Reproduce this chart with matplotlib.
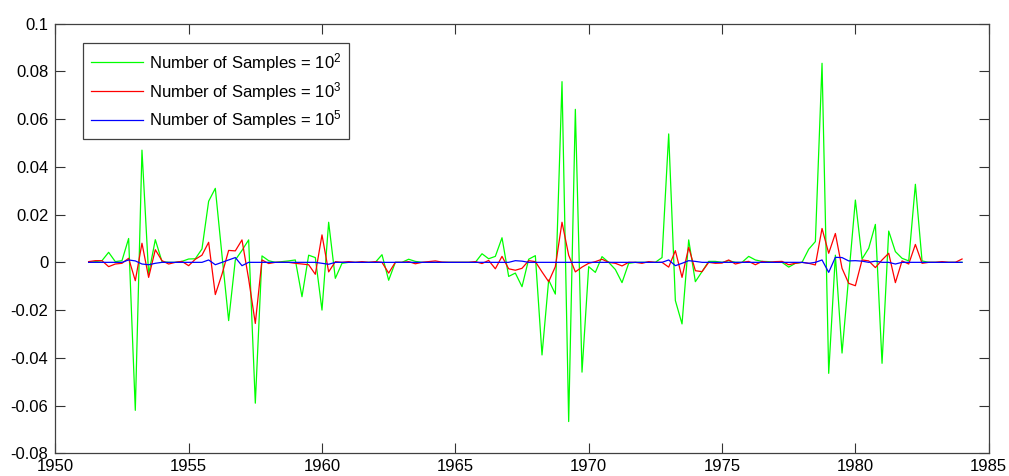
import numpy as np
import matplotlib
matplotlib.use('Agg')
import matplotlib.pyplot as plt

plt.rcParams['font.family'] = ['Liberation Sans', 'DejaVu Sans']
plt.rcParams['mathtext.fontset'] = 'custom'
plt.rcParams['mathtext.rm'] = 'Liberation Sans'
plt.rcParams['axes.unicode_minus'] = False

# quarterly dates, 1951.25 .. 1984.0
start_year = 1951.25
n_quarters = 132

# errors for N = 1e2 samples
err_1e2 = [
    0.0, 0.0003, 0.0007, 0.0042, 0.0003, 0.0007, 0.0100, -0.0620, 0.0470, -0.0050,
    0.0095, 0.0003, 0.0, 0.0, 0.0004, 0.0014, 0.0015, 0.0056, 0.0256, 0.0310,
    0.0030, -0.0244, 0.0010, 0.0050, 0.0094, -0.0590, 0.0027, 0.0007, 0.0, 0.0003,
    0.0006, 0.0010, -0.0144, 0.0030, 0.0020, -0.0200, 0.0168, -0.0067, -0.0004, 0.0,
    0.0, 0.0, 0.0, 0.0, 0.0032, -0.0075, 0.0, 0.0, 0.0013, 0.0004,
    0.0, 0.0, 0.0, 0.0, 0.0, 0.0, 0.0, 0.0, 0.0, 0.0036,
    0.0015, 0.0025, 0.0103, -0.0059, -0.0045, -0.0102, 0.0013, 0.0028, -0.0388, -0.0074,
    -0.0133, 0.0757, -0.0667, 0.0641, -0.0460, -0.0018, -0.0042, 0.0024, 0.0, -0.0030,
    -0.0085, -0.0004, 0.0, 0.0, 0.0, 0.0, 0.0020, 0.0538, -0.0160, -0.0258,
    0.0094, -0.0081, -0.0039, 0.0004, 0.0004, 0.0, 0.0007, 0.0, 0.0, 0.0025,
    0.0010, 0.0004, 0.0003, 0.0, 0.0, -0.0020, -0.0004, 0.0, 0.0055, 0.0087,
    0.0834, -0.0465, 0.0030, -0.0380, -0.0060, 0.0261, 0.0014, 0.0059, 0.0159, -0.0423,
    0.0131, 0.0045, 0.0017, 0.0006, 0.0327, 0.0006, 0.0, 0.0, 0.0, 0.0,
    0.0, 0.0,
]

# errors for N = 1e3 samples
err_1e3 = [
    0.0003, 0.0007, 0.0007, -0.0018, -0.0007, -0.0004, 0.0017, -0.0077, 0.0080, -0.0063,
    0.0053, 0.0007, -0.0007, 0.0, 0.0004, -0.0014, 0.0013, 0.0030, 0.0084, -0.0135,
    -0.0050, 0.0050, 0.0048, 0.0094, -0.0070, -0.0256, 0.0010, -0.0005, 0.0, 0.0,
    0.0, -0.0004, -0.0007, -0.0010, -0.0050, 0.0115, -0.0040, 0.0003, 0.0, 0.0003,
    0.0, 0.0003, 0.0, 0.0003, 0.0, -0.0045, 0.0, 0.0, 0.0003, -0.0006,
    0.0, 0.0003, 0.0006, 0.0001, 0.0, 0.0, 0.0, 0.0, 0.0003, -0.0005,
    0.0008, -0.0027, 0.0025, -0.0027, -0.0033, -0.0025, 0.0007, 0.0003, -0.0040, -0.0081,
    -0.0018, 0.0168, 0.0030, -0.0040, -0.0020, -0.0004, 0.0003, 0.0013, 0.0, -0.0004,
    -0.0015, 0.0, 0.0, -0.0004, 0.0003, 0.0, 0.0, -0.0020, 0.0049, -0.0063,
    0.0063, -0.0035, -0.0039, 0.0, -0.0004, -0.0003, 0.0010, -0.0007, 0.0, 0.0004,
    -0.0010, 0.0004, 0.0, 0.0003, 0.0004, -0.0010, -0.0004, 0.0, -0.0004, -0.0011,
    0.0142, 0.0038, 0.0121, -0.0025, -0.0088, -0.0098, 0.0010, 0.0006, -0.0022, 0.0010,
    0.0038, -0.0085, 0.0006, -0.0007, 0.0075, -0.0004, 0.0, 0.0, 0.0003, 0.0,
    0.0, 0.0014,
]

# errors for N = 1e5 samples
err_1e5 = [
    0.0, 0.0, 0.0, 0.0, 0.0, 0.0, 0.0010, 0.0006, -0.0007, -0.0010,
    -0.0004, 0.0, 0.0, 0.0, 0.0, 0.0, 0.0, 0.0, 0.0010, -0.0010,
    0.0, 0.0010, 0.0020, -0.0014, 0.0, 0.0, 0.0, 0.0, 0.0, 0.0,
    0.0, 0.0, 0.0, 0.0, 0.0, -0.0004, -0.0008, 0.0, 0.0, 0.0,
    0.0, 0.0, 0.0, 0.0, 0.0, 0.0, 0.0, 0.0, 0.0, 0.0,
    0.0, 0.0, 0.0, 0.0, 0.0, 0.0, 0.0, 0.0, 0.0, 0.0,
    0.0, 0.0, 0.0, 0.0, 0.0007, 0.0005, 0.0, 0.0, 0.0, 0.0,
    0.0, 0.0, 0.0, 0.0, 0.0, 0.0, 0.0, 0.0, 0.0, 0.0,
    0.0, 0.0, 0.0, 0.0, 0.0, 0.0, 0.0, 0.0010, -0.0014, -0.0004,
    0.0007, 0.0004, 0.0, 0.0, 0.0, 0.0, 0.0, 0.0, 0.0, 0.0,
    0.0, 0.0, 0.0, 0.0, 0.0, 0.0, 0.0, 0.0, -0.0004, 0.0,
    0.0010, -0.0042, 0.0021, 0.0020, 0.0006, 0.0007, 0.0005, 0.0, 0.0005, 0.0,
    0.0, -0.0007, 0.0, 0.0, 0.0, 0.0, 0.0, 0.0, 0.0, 0.0,
    0.0, 0.0,
]

labels = ['Number of Samples = $\\mathregular{10^2}$',
          'Number of Samples = $\\mathregular{10^3}$',
          'Number of Samples = $\\mathregular{10^5}$']

years = start_year + 0.25 * np.arange(n_quarters)

fig = plt.figure(figsize=(10.09, 4.76), dpi=100)
ax = fig.add_axes([0.0548, 0.0477, 0.9251, 0.9026])

ax.plot(years, err_1e2, color='#00ff00', lw=0.9, label=labels[0])
ax.plot(years, err_1e3, color='#ff0000', lw=0.9, label=labels[1])
ax.plot(years, err_1e5, color='#0000ff', lw=0.9, label=labels[2])

ax.set_xlim(1950, 1985)
ax.set_ylim(-0.08, 0.1)
ax.set_xticks(np.arange(1950, 1986, 5))
yt = np.round(np.arange(-0.08, 0.101, 0.02), 2)
ax.set_yticks(yt)
ax.set_yticklabels(['%g' % v for v in yt])

ax.tick_params(direction='in', length=7, width=0.8, top=True, right=True,
               labelsize=12, colors='#333333', labelcolor='black')
ax.tick_params(axis='x', pad=4)
ax.tick_params(axis='y', pad=5)
for s in ax.spines.values():
    s.set_color('#404040')
    s.set_linewidth(0.9)

leg = ax.legend(loc='upper left', bbox_to_anchor=(0.0297, 0.954), borderaxespad=0,
                fancybox=False, framealpha=1, edgecolor='#404040', fontsize=12,
                handlelength=3.15, handletextpad=0.35, labelspacing=0.35,
                borderpad=0.45)
leg.get_frame().set_linewidth(0.9)

fig.savefig('out.png', dpi=100)
